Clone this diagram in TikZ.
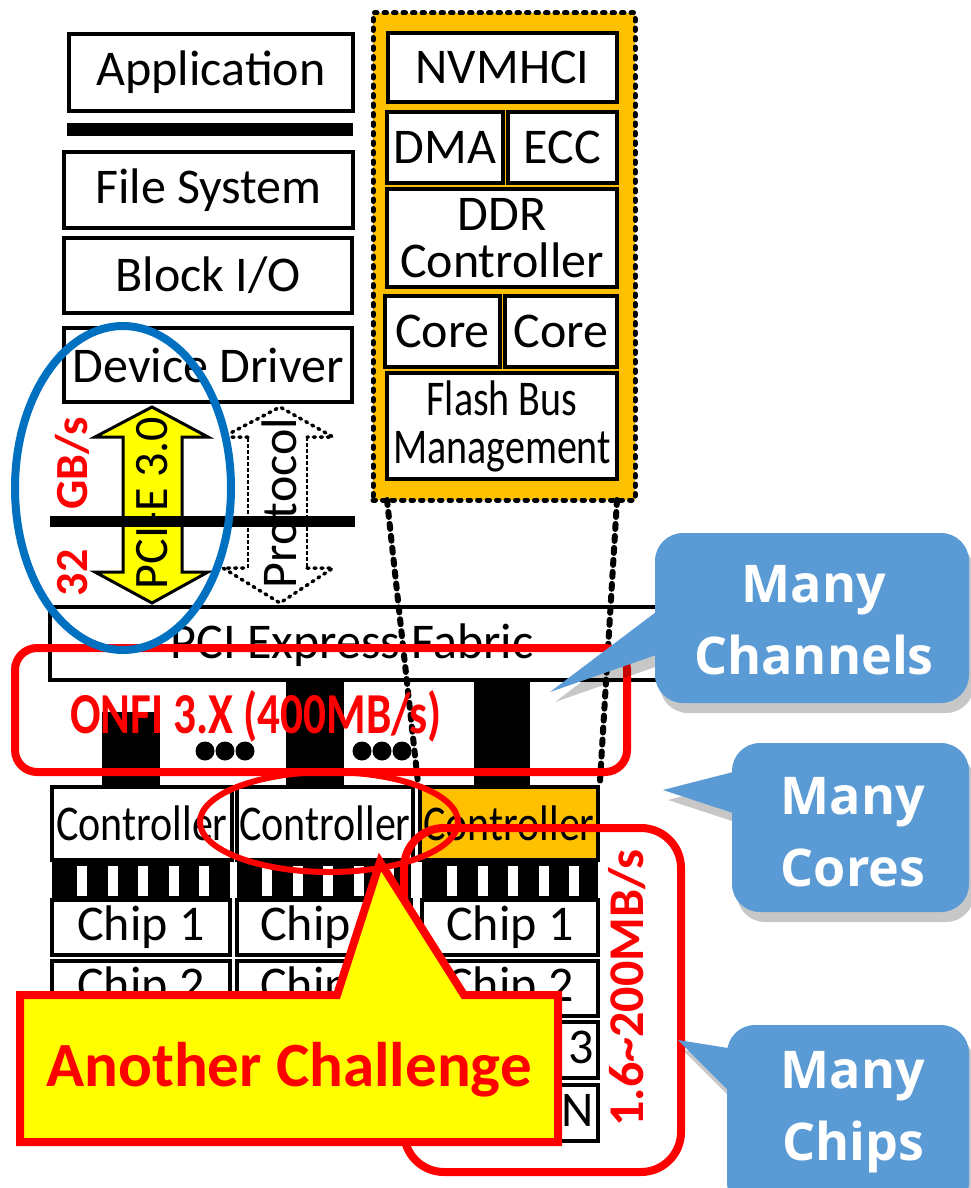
\documentclass[tikz,border=0pt]{standalone}
\usepackage{fontspec}
\setmainfont{Carlito}
\newfontfamily\condfont[FakeStretch=0.84]{Carlito}
\newfontfamily\flashfont[FakeStretch=0.8]{Carlito}
\newfontfamily\onfifont[FakeStretch=0.78]{Carlito}
\newfontfamily\callfont{Open Sans}
\definecolor{ssdorange}{HTML}{FFC000}
\definecolor{callblue}{HTML}{5B9BD5}
\definecolor{ellblue}{HTML}{0070C0}
\definecolor{hired}{HTML}{FF0000}
\definecolor{hiyellow}{HTML}{FFFF00}
\begin{document}
\begin{tikzpicture}[x=1pt,y=-1pt,
  box/.style={draw=black, line width=3.5pt, fill=white, inner sep=0pt, font=\fontsize{50}{50}\selectfont},
  cbox/.style={box, font=\condfont\fontsize{50}{50}\selectfont},
  dotline/.style={line width=5pt, dash pattern=on 2.5pt off 7pt, line cap=round},
  linkline/.style={draw=black, line width=6pt, dash pattern=on 5pt off 7pt, line cap=round},
  redmark/.style={draw=hired, line width=8pt},
  calltext/.style={text=white, font=\callfont\bfseries\fontsize{52}{72}\selectfont, align=center, inner sep=0pt},
  shadowfill/.style={fill=black, opacity=0.22}
]
\useasboundingbox (0,0) rectangle (971,1188);
\fill[white] (0,0) rectangle (971,1188);

% ---------- left software stack ----------
\node[box, minimum width=284, minimum height=77] (app) at (211,72.5) {Application};
\fill (67,123) rectangle (353,136);
\node[box, minimum width=289, minimum height=76] (fs) at (208.5,190) {File System};
\node[box, minimum width=288, minimum height=75] (bio) at (208,275.5) {Block I/O};
\node[box, minimum width=288, minimum height=74] (dd) at (208,365) {Device Driver};

% ---------- SSD controller block ----------
\node[draw=black, dotline, fill=ssdorange, minimum width=262, minimum height=487, inner sep=0pt] (ssd) at (504,256.5) {};
\node[box, minimum width=229, minimum height=69] (nvm) at (502.5,67.5) {NVMHCI};
\node[box, minimum width=116, minimum height=71] (dma) at (445,147.5) {DMA};
\node[box, minimum width=109, minimum height=71] (ecc) at (562.5,147.5) {ECC};
\node[box, minimum width=230, minimum height=98, align=center, font=\fontsize{50}{47}\selectfont] (ddr) at (502,238) {DDR\\Controller};
\node[box, minimum width=115, minimum height=71] (core1) at (442.5,331.5) {Core};
\node[box, minimum width=112, minimum height=71] (core2) at (561,331.5) {Core};
\node[box, minimum width=230, minimum height=106, align=center, font=\flashfont\fontsize{50}{48}\selectfont] (flash) at (502,426) {Flash Bus\\Management};

% ---------- PCI-E arrow ----------
\filldraw[fill=hiyellow, draw=black, line width=3pt, line join=miter]
  (152,407) -- (208,437) -- (182,437) -- (182,572) -- (208,572) -- (152,603)
  -- (95,572) -- (123,572) -- (123,437) -- (95,437) -- cycle;
% ---------- Protocol arrow ----------
\draw[black, line width=1.5pt, dash pattern=on 4pt off 2pt]
  (307,437) -- (307,568) (248,568) -- (248,437);
\draw[black, dotline, line width=3.5pt, dash pattern=on 2pt off 5pt]
  (248,437) -- (223,437) -- (280,407) -- (333,437) -- (307,437)
  (307,568) -- (333,568) -- (280,603) -- (223,568) -- (248,568);
% black bus line
\draw[line width=11pt] (50,521) -- (355,521);
\node[rotate=90, font=\fontsize{48}{48}\selectfont, inner sep=0pt] (pcie) at (152,503) {PCI-E 3.0};
\node[rotate=90, font=\fontsize{50}{50}\selectfont, inner sep=0pt] (proto) at (279,503) {Protocol};
\node[rotate=90, text=hired, font=\bfseries\fontsize{46}{46}\selectfont, inner sep=0pt] (gbs) at (72,507) {32\hspace{40pt}GB/s};

% ---------- PCI Express Fabric ----------
\node[box, minimum width=650, minimum height=73] (fabric) at (375,643.5) {};
\node[font=\fontsize{50}{50}\selectfont, inner sep=0pt] (fabrictxt) at (352,645) {PCI Express Fabric};

% ---------- channels ----------
\fill (102,712) rectangle (160,788);
\fill (286,680) rectangle (344,788);
\fill (474,680) rectangle (530,788);
\foreach \x in {205,225,245,362,382,402} \fill (\x,751) circle (9.5);

% ---------- controllers ----------
\node[cbox, minimum width=180, minimum height=73] (ctl1) at (142,823.5) {Controller};
\node[cbox, minimum width=176, minimum height=73] (ctl2) at (325,823.5) {Controller};
\node[cbox, fill=ssdorange, minimum width=178, minimum height=73] (ctl3) at (509,823.5) {Controller};

% combs
\foreach \L/\R in {52/230,237/411,422/598} {
  \fill (\L,862) rectangle (\R,900);
  \foreach \k in {0,...,4} \fill[white] ({\L+25+\k*30.5},866) rectangle ({\L+35+\k*30.5},896);
}
% chips (visible rows)
\foreach \L/\R/\n in {52/230/1,237/411/2,422/598/3} {
  \foreach \T/\B/\t/\m in {900/955/1/1,961/1016/2/2} {
    \node[box, minimum width={\R-\L}, minimum height={\B-\T}] (chip\n\m) at ({(\L+\R)/2},{(\T+\B)/2}) {Chip \t};
  }
}
% chips under the callout
\foreach \L/\R/\n in {52/230/1,237/411/2} {
  \foreach \T/\B/\m in {1022/1078/3,1085/1141/4} {
    \node[box, minimum width={\R-\L}, minimum height={\B-\T}] (chip\n\m) at ({(\L+\R)/2},{(\T+\B)/2}) {};
  }
}
\node[box, minimum width=176, minimum height=56, text width=168, align=right] (chip33) at (510,1050) {Chip 3};
\node[box, minimum width=176, minimum height=56, text width=168, align=right] (chip34) at (510,1113) {Chip N};

% dotted links from controller block to controller 3
\coordinate (dl) at (387,500);
\coordinate (dr) at (617,500);
\draw[linkline] (dl) -- (ctl3.north west);
\draw[linkline] (dr) -- (ctl3.north east);

% ---------- highlights ----------
\draw[redmark, rounded corners=22pt] (15,648) rectangle (627,772);
\node[text=hired, font=\onfifont\bfseries\fontsize{58}{58}\selectfont, inner sep=0pt] (onfi) at (256,716) {ONFI 3.X (400MB/s)};
\draw[draw=ellblue, line width=8pt] (123,488) ellipse [x radius=108, y radius=162];
\draw[draw=hired, line width=6pt] (329,822) ellipse [x radius=129, y radius=50];
\draw[redmark, rounded corners=40pt] (404,828) rectangle (681,1172);
\node[rotate=90, text=hired, font=\bfseries\fontsize{50}{50}\selectfont, inner sep=0pt] (rate) at (627,988) {1.6\textasciitilde200MB/s};

% ---------- Another Challenge callout ----------
\filldraw[fill=hiyellow, draw=hired, line width=8pt, line join=miter]
  (20,995) -- (337,995) -- (380,862) -- (464,995) -- (558,995) -- (558,1142) -- (20,1142) -- cycle;
\node[text=hired, font=\bfseries\fontsize{63}{63}\selectfont, inner sep=0pt] (chal) at (289,1070) {Another Challenge};

% ---------- blue callouts ----------
\begin{scope}[shift={(5,10)}]
  \fill[shadowfill, rounded corners=28pt] (655,533) rectangle (969,703);
  \fill[shadowfill] (656,612) -- (550,692) -- (656,655) -- cycle;
  \fill[shadowfill, rounded corners=28pt] (732,743) rectangle (969,912);
  \fill[shadowfill] (733,772) -- (663,790) -- (733,813) -- cycle;
  \fill[shadowfill, rounded corners=28pt] (727,1025) rectangle (969,1210);
  \fill[shadowfill] (728,1048) -- (678,1040) -- (728,1090) -- cycle;
\end{scope}
\fill[callblue, rounded corners=28pt] (655,533) rectangle (969,703);
\fill[callblue] (656,612) -- (550,692) -- (656,655) -- cycle;
\node[calltext] (mch) at (814,620) {Many\\Channels};
\fill[callblue, rounded corners=28pt] (732,743) rectangle (969,912);
\fill[callblue] (733,772) -- (663,790) -- (733,813) -- cycle;
\node[calltext] (mco) at (853,832) {Many\\Cores};
\fill[callblue, rounded corners=28pt] (727,1025) rectangle (969,1210);
\fill[callblue] (728,1048) -- (678,1040) -- (728,1090) -- cycle;
\node[calltext] (mcp) at (853,1112) {Many\\Chips};
\end{tikzpicture}
\end{document}
